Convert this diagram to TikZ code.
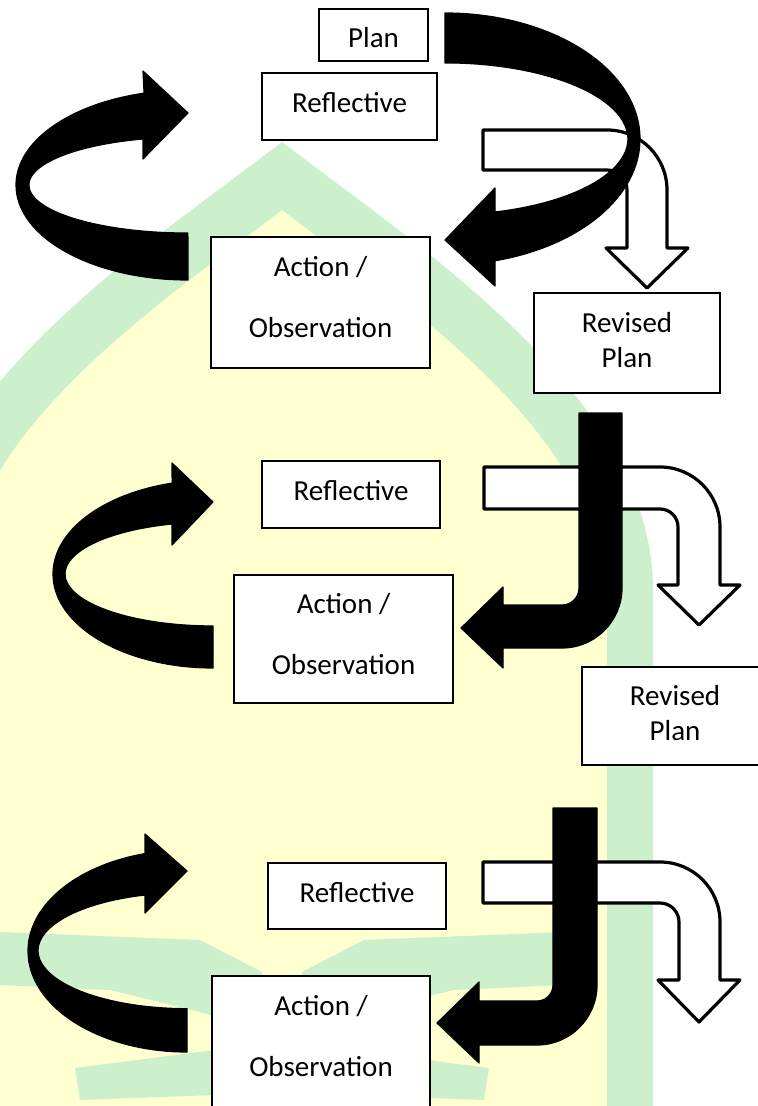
\documentclass[tikz,border=0pt]{standalone}
\usepackage{fontspec}
\setmainfont{Carlito}
\definecolor{wmgreen}{RGB}{204,240,204}
\definecolor{wmyellow}{RGB}{255,255,208}

\begin{document}
\begin{tikzpicture}[x=1pt,y=1pt,xscale=0.5,yscale=-0.5,
    box/.style={draw,line width=0.8pt,fill=white,inner sep=0pt,align=center,font=\fontsize{14.5}{17.5}\selectfont},
    reflbox/.style={box,text depth=4pt},
    obsbox/.style={box,font=\fontsize{14.5}{30.5}\selectfont},
    solidarrow/.style={fill=black,draw=black,line width=0.6pt,line join=round},
    hollowarrow/.style={fill=white,draw=black,line width=1.6pt,line join=round}]
\useasboundingbox (0,0) rectangle (758,1106);
\clip (0,0) rectangle (758,1106);

\fill[wmyellow] (282,210) .. controls (420,315) and (607,440) .. (607,610) -- (607,1110) -- (-43,1110) -- (-43,610) .. controls (-43,440) and (144,315) .. (282,210);
\fill[wmgreen] (282,142) .. controls (430,255) and (653,400) .. (653,590) -- (653,1110) -- (607,1110) -- (607,610) .. controls (607,440) and (420,315) .. (282,210) .. controls (144,315) and (-43,440) .. (-43,610) -- (-43,1110) -- (-89,1110) -- (-89,590) .. controls (-89,400) and (134,255) .. (282,142) -- cycle;
\fill[wmgreen] (0,932) -- (200,940) -- (262,972) -- (262,1030) -- (200,1012) -- (110,990) -- (0,985) -- cycle;
\fill[wmgreen] (564,932) -- (364,940) -- (302,972) -- (302,1030) -- (364,1012) -- (454,990) -- (564,985) -- cycle;
\fill[wmgreen] (75,1068) -- (215,1050) -- (215,1095) -- (80,1100) -- cycle;
\fill[wmgreen] (489,1068) -- (349,1050) -- (349,1095) -- (484,1100) -- cycle;

\draw[hollowarrow] (483,130) -- (607,130) arc[start angle=-90,end angle=0,radius=60] -- (667,248) -- (688,248) -- (647,288) -- (606,248) -- (627,248) -- (627,190) arc[start angle=0,end angle=-90,radius=20] -- (483,170) -- cycle;
\draw[hollowarrow] (484,467) -- (660,467) arc[start angle=-90,end angle=0,radius=60] -- (720,585) -- (740,585) -- (699,625) -- (658,585) -- (678,585) -- (678,527) arc[start angle=0,end angle=-90,radius=18] -- (484,509) -- cycle;
\draw[hollowarrow] (483,862) -- (660,862) arc[start angle=-90,end angle=0,radius=60] -- (720,980) -- (740,980) -- (699,1022) -- (658,980) -- (679,980) -- (679,922) arc[start angle=0,end angle=-90,radius=19] -- (483,903) -- cycle;

\draw[solidarrow] (445,13) arc[start angle=-90,end angle=75.1,x radius=195,y radius=126] -- (495,286) -- (445,240) -- (495,188) -- (495,212) arc[start angle=74.1,end angle=-90,x radius=183,y radius=76] -- cycle;
\draw[solidarrow] (188,280) arc[start angle=90,end angle=255.2,x radius=172,y radius=95] -- (143,71) -- (188,113) -- (143,159) -- (143,139) arc[start angle=253.6,end angle=90,x radius=159,y radius=48] -- cycle;
\draw[solidarrow] (213,668) arc[start angle=90,end angle=255.2,x radius=160,y radius=94] -- (172,463) -- (213,502) -- (172,545) -- (172,524) arc[start angle=253.9,end angle=90,x radius=148,y radius=52] -- cycle;
\draw[solidarrow] (187,1052) arc[start angle=90,end angle=254.7,x radius=159,y radius=101] -- (145,834) -- (187,871) -- (145,913) -- (145,895) arc[start angle=253.6,end angle=90,x radius=149,y radius=58] -- cycle;
\draw[solidarrow] (579,413) -- (622,413) -- (622,588) arc[start angle=0,end angle=90,radius=60] -- (503,648) -- (503,668) -- (461,628) -- (503,587) -- (503,605) -- (562,605) arc[start angle=90,end angle=0,radius=17] -- cycle;
\draw[solidarrow] (553,808) -- (597,808) -- (597,985) arc[start angle=0,end angle=90,radius=60] -- (479,1045) -- (479,1063) -- (437,1023) -- (479,982) -- (479,1001) -- (537,1001) arc[start angle=90,end angle=0,radius=16] -- cycle;

\node[box,minimum width=54.5pt,minimum height=26pt,text height=13pt,text depth=0pt] (plan) at (373.5,35) {Plan};
\node[reflbox,minimum width=87.5pt,minimum height=33.5pt] (refl1) at (349.5,106.5) {Reflective};
\node[obsbox,minimum width=109.5pt,minimum height=65.5pt] (act1) at (320.5,302.5) {Action /\\Observation\rule[-5.5pt]{0pt}{0pt}};
\node[box,minimum width=93pt,minimum height=50pt] (rev1) at (627,343) {Revised\\Plan\rule[-3.5pt]{0pt}{0pt}};
\node[reflbox,minimum width=89pt,minimum height=33.5pt] (refl2) at (351,494.5) {Reflective};
\node[obsbox,minimum width=109.5pt,minimum height=64pt] (act2) at (343.5,639) {Action /\\Observation\rule[-5.5pt]{0pt}{0pt}};
\node[box,minimum width=93pt,minimum height=49pt] (rev2) at (675,716) {Revised\\Plan\rule[-3.5pt]{0pt}{0pt}};
\node[reflbox,minimum width=89pt,minimum height=33pt] (refl3) at (357,896) {Reflective};
\node[obsbox,minimum width=109pt,minimum height=65.5pt] (act3) at (321,1041.5) {Action /\\Observation\rule[-5.5pt]{0pt}{0pt}};
\end{tikzpicture}
\end{document}
